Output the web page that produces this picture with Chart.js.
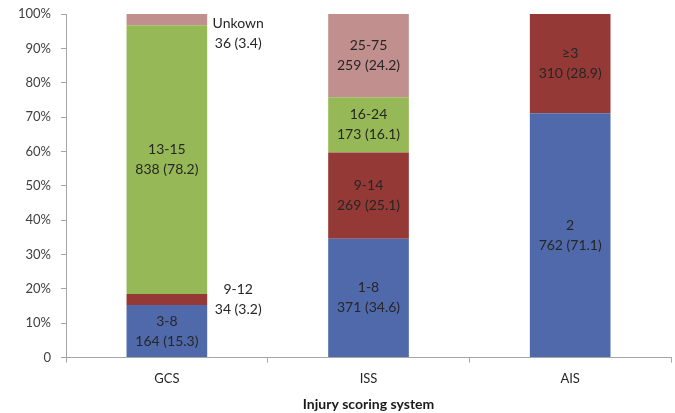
<!DOCTYPE html>
<html>
<head>
<meta charset="utf-8">
<script src="https://cdn.jsdelivr.net/npm/chart.js@4/dist/chart.umd.min.js"></script>
<style>
  html, body { margin: 0; padding: 0; background: #fff; }
  #wrap { width: 675px; height: 413px; }
</style>
</head>
<body>
<div id="wrap"><canvas id="c" width="675" height="413"></canvas></div>
<script>
// Injury scoring systems, stacked share of patients per band
const categories = ['GCS', 'ISS', 'AIS'];

// Band names per stack level (bottom to top)
const bandLow  = ['3-8', '1-8', '2'];
const bandMid  = ['9-12', '9-14', '\u22653'];
const bandHigh = ['13-15', '16-24', null];
const bandTop  = ['Unkown', '25-75', null];

// Patient counts per band
const countLow  = [164, 371, 762];
const countMid  = [34, 269, 310];
const countHigh = [838, 173, null];
const countTop  = [36, 259, null];

// Percentages per band
const pctLow  = [15.3, 34.6, 71.1];
const pctMid  = [3.2, 25.1, 28.9];
const pctHigh = [78.2, 16.1, null];
const pctTop  = [3.4, 24.2, null];

const yTicks = [0, 10, 20, 30, 40, 50, 60, 70, 80, 90, 100];

const FONT = 'Lato, "Open Sans", sans-serif';
const axisColor = '#a6a6a6';

const levels = [
  { data: pctLow,  names: bandLow,  counts: countLow,  color: '#4f69ab' },
  { data: pctMid,  names: bandMid,  counts: countMid,  color: '#953936' },
  { data: pctHigh, names: bandHigh, counts: countHigh, color: '#97b857' },
  { data: pctTop,  names: bandTop,  counts: countTop,  color: '#c28f8f' }
];

const segmentLabels = {
  id: 'segmentLabels',
  afterDatasetsDraw(chart) {
    const ctx = chart.ctx;
    const area = chart.chartArea;
    ctx.save();
    ctx.font = '14px ' + FONT;
    ctx.fillStyle = '#262626';
    ctx.textAlign = 'center';
    ctx.textBaseline = 'middle';
    chart.data.datasets.forEach((ds, di) => {
      const meta = chart.getDatasetMeta(di);
      meta.data.forEach((bar, i) => {
        const v = ds.data[i];
        if (v == null) return;
        const lvl = levels[di];
        const line1 = lvl.names[i];
        const line2 = lvl.counts[i] + ' (' + v + ')';
        const top = Math.max(Math.min(bar.y, bar.base), area.top);
        const bottom = Math.min(Math.max(bar.y, bar.base), area.bottom);
        let cy = (top + bottom) / 2;
        let cx = bar.x;
        if (v < 5) {
          // small slices get their label beside the bar
          cx = bar.x + bar.width / 2 + 31;
          cy = Math.max(cy, area.top + 19);
        }
        ctx.fillText(line1, cx, cy - 10);
        ctx.fillText(line2, cx, cy + 10);
      });
    });
    ctx.restore();
  }
};

new Chart(document.getElementById('c'), {
  type: 'bar',
  data: {
    labels: categories,
    datasets: levels.map(l => ({
      data: l.data,
      backgroundColor: l.color,
      borderWidth: 0,
      barPercentage: 0.4,
      categoryPercentage: 1.0
    }))
  },
  options: {
    responsive: false,
    animation: false,
    events: [],
    layout: { padding: { top: 14, right: 4, left: 8, bottom: 0 } },
    plugins: {
      legend: { display: false },
      tooltip: { enabled: false }
    },
    scales: {
      x: {
        stacked: true,
        grid: {
          offset: true,
          drawOnChartArea: false,
          drawTicks: true,
          tickLength: 5,
          color: axisColor
        },
        border: { color: axisColor, width: 1 },
        ticks: { color: '#262626', font: { family: FONT, size: 13 }, padding: 8 },
        title: {
          display: true,
          text: 'Injury scoring system',
          color: '#1a1a1a',
          font: { family: FONT, size: 14, weight: 'bold' },
          padding: { top: 2, bottom: 0 }
        }
      },
      y: {
        stacked: true,
        min: 0,
        max: 100,
        afterBuildTicks(axis) { axis.ticks = yTicks.map(v => ({ value: v })); },
        afterFit(axis) { axis.paddingTop = 0; },
        grid: {
          drawOnChartArea: false,
          drawTicks: true,
          tickLength: 5,
          color: axisColor
        },
        border: { color: axisColor, width: 1 },
        ticks: {
          color: '#404040',
          font: { family: FONT, size: 13 },
          padding: 10,
          callback: v => v === 0 ? '0' : v + '%'
        }
      }
    }
  },
  plugins: [segmentLabels]
});
</script>
</body>
</html>
